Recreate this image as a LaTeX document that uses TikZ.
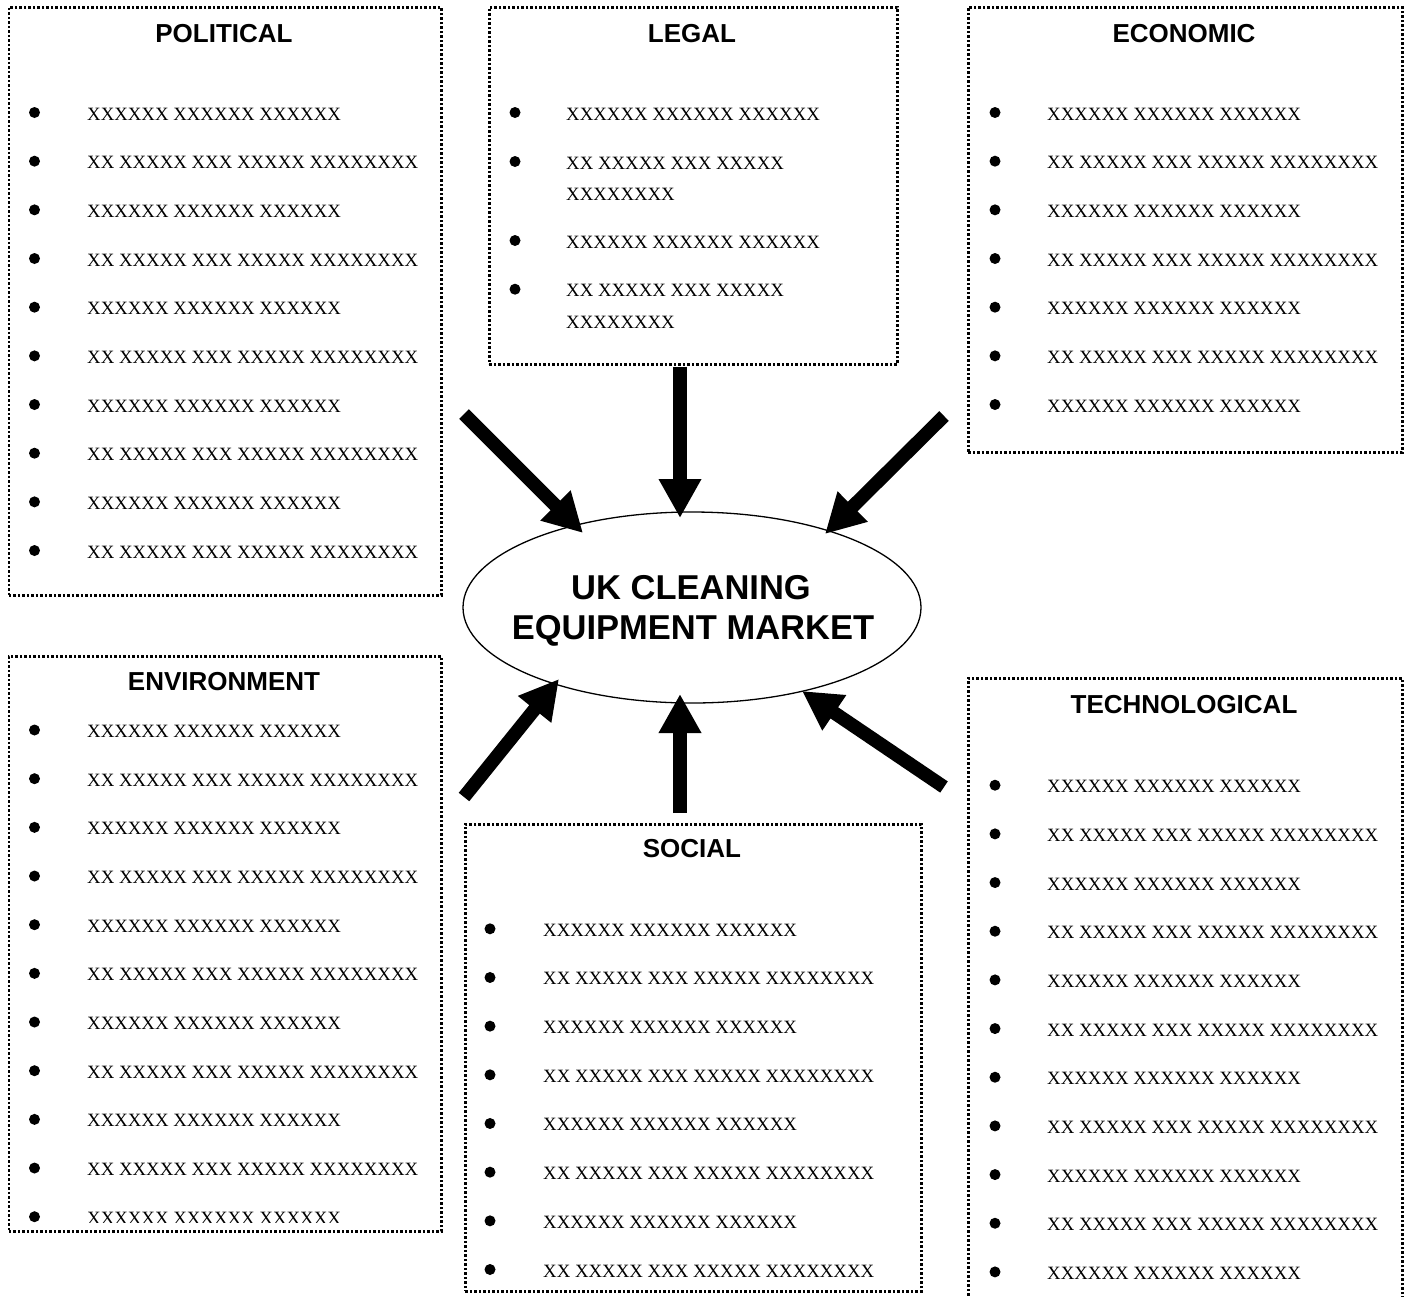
\documentclass[tikz,border=0pt]{standalone}
\usepackage{fontspec}
\setmainfont{Liberation Serif}
\newfontfamily\headfont{Liberation Sans}
\usetikzlibrary{shapes.geometric,arrows.meta}

\newcommand\txa{XXXXXX XXXXXX XXXXXX}
\newcommand\txb{XX XXXXX XXX XXXXX XXXXXXXX}

\tikzset{
  frame/.style={draw, line width=2.7pt, dash pattern=on 2.6pt off 1.9pt, rectangle, inner sep=0pt, anchor=north west},
  boxtitle/.style={font=\headfont\bfseries\fontsize{26}{30}\selectfont, anchor=base, inner sep=0pt},
  itm/.style={font=\fontsize{18.8}{22}\selectfont, anchor=base west, inner sep=0pt},
  bul/.style={circle, fill=black, inner sep=0pt, minimum size=11pt},
  hub/.style={ellipse, draw, line width=1.3pt, inner sep=0pt},
  hubtext/.style={font=\headfont\bfseries\fontsize{34.5}{40}\selectfont, anchor=base, inner sep=0pt},
  bigarrow/.style={line width=13.5pt, -{Triangle[length=39pt,width=40pt]}}
}

% one bulleted row: name, bullet x, text x, baseline y, text
\newcommand\bulrow[5]{%
  \node[bul] (#1-b) at (#2,#4-7.5) {};
  \node[itm] (#1) at (#3,#4) {#5};
}

\begin{document}
\begin{tikzpicture}[x=1pt,y=-1pt]
\useasboundingbox (0,0) rectangle (1407,1296);
\clip (0,0) rectangle (1407,1296);

% ---- frames ----
\node[frame, minimum width=432.5pt, minimum height=588pt] (pol) at (7.5,6) {};
\node[frame, minimum width=408pt, minimum height=357pt] (leg) at (488,6) {};
\node[frame, minimum width=434pt, minimum height=445pt] (eco) at (967,6) {};
\node[frame, minimum width=432.5pt, minimum height=575pt] (env) at (7.5,655) {};
\node[frame, minimum width=456pt, minimum height=467pt] (soc) at (464,823) {};
\node[frame, minimum width=434pt, minimum height=650pt] (tec) at (967,677) {};

% ---- titles ----
\node[boxtitle] (polt) at (224,42) {POLITICAL};
\node[boxtitle] (legt) at (692,42) {LEGAL};
\node[boxtitle] (ecot) at (1184,42) {ECONOMIC};
\node[boxtitle] (envt) at (224,690) {ENVIRONMENT};
\node[boxtitle] (soct) at (692,857) {SOCIAL};
\node[boxtitle] (tect) at (1184,713) {TECHNOLOGICAL};

% ---- political ----
\foreach \i in {0,...,9}{
  \pgfmathsetmacro\yy{120+48.67*\i}
  \ifodd\i \bulrow{pol-\i}{34.5}{87}{\yy}{\txb}\else \bulrow{pol-\i}{34.5}{87}{\yy}{\txa}\fi
}

% ---- legal ----
\bulrow{leg-0}{515}{566}{120}{\txa}
\bulrow{leg-1}{515}{566}{169}{XX XXXXX XXX XXXXX}
\node[itm] (leg-1c) at (566,200.7) {XXXXXXXX};
\bulrow{leg-2}{515}{566}{248}{\txa}
\bulrow{leg-3}{515}{566}{296.7}{XX XXXXX XXX XXXXX}
\node[itm] (leg-3c) at (566,328) {XXXXXXXX};

% ---- economic ----
\foreach \i in {0,...,6}{
  \pgfmathsetmacro\yy{120+48.67*\i}
  \ifodd\i \bulrow{eco-\i}{995}{1047}{\yy}{\txb}\else \bulrow{eco-\i}{995}{1047}{\yy}{\txa}\fi
}

% ---- environment (last row cut by the frame) ----
\begin{scope}
\clip (7.5,655) rectangle (440,1222);
\foreach \i in {0,...,10}{
  \pgfmathsetmacro\yy{737.5+48.67*\i}
  \ifodd\i \bulrow{env-\i}{34.5}{87}{\yy}{\txb}\else \bulrow{env-\i}{34.5}{87}{\yy}{\txa}\fi
}
\end{scope}

% ---- social ----
\foreach \i in {0,...,7}{
  \pgfmathsetmacro\yy{936.3+48.67*\i}
  \ifodd\i \bulrow{soc-\i}{490}{543}{\yy}{\txb}\else \bulrow{soc-\i}{490}{543}{\yy}{\txa}\fi
}

% ---- technological ----
\foreach \i in {0,...,10}{
  \pgfmathsetmacro\yy{792.7+48.67*\i}
  \ifodd\i \bulrow{tec-\i}{995}{1047}{\yy}{\txb}\else \bulrow{tec-\i}{995}{1047}{\yy}{\txa}\fi
}

% ---- central market ----
\node[hub, minimum width=458pt, minimum height=191pt] (mk) at (692,607.5) {};
\node[hubtext] (mk1) at (691,599) {UK CLEANING};
\node[hubtext] (mk2) at (693,639) {EQUIPMENT MARKET};

% ---- arrow ends ----
\coordinate (tlA) at (464,414);  \coordinate (tlB) at (583,533);
\coordinate (tA)  at (680,367);  \coordinate (tB)  at (680,518);
\coordinate (trA) at (944,416);  \coordinate (trB) at (825,534);
\coordinate (blA) at (464,797);  \coordinate (blB) at (559,679);
\coordinate (bA)  at (680,813);  \coordinate (bB)  at (680,694);
\coordinate (brA) at (944,787);  \coordinate (brB) at (802,691);

\draw[bigarrow] (tlA) -- (tlB);
\draw[bigarrow] (tA) -- (tB);
\draw[bigarrow] (trA) -- (trB);
\draw[bigarrow] (blA) -- (blB);
\draw[bigarrow] (bA) -- (bB);
\draw[bigarrow] (brA) -- (brB);
\end{tikzpicture}
\end{document}
